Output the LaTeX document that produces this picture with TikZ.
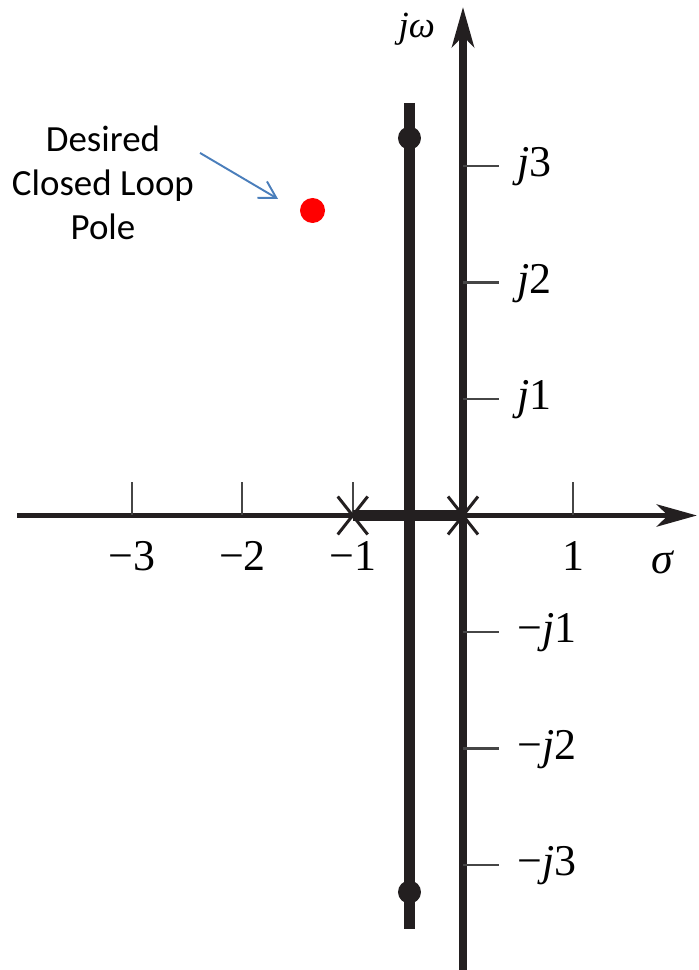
\documentclass[tikz,border=0pt]{standalone}
\usepackage{fontspec}
\setmainfont{Liberation Serif}
\newfontfamily\calloutfont{Carlito}
\usetikzlibrary{arrows.meta,shapes.misc}
\definecolor{inkblack}{RGB}{35,31,32}
\definecolor{tickgray}{RGB}{70,70,70}
\definecolor{calloutblue}{RGB}{74,126,187}
\tikzset{
  axislabel/.style={font=\fontsize{25}{30}\selectfont,inner sep=0pt},
  tickline/.style={tickgray,line width=1.2pt},
  polemark/.style={cross out,draw=inkblack,line width=1.7pt,minimum width=0.54cm,minimum height=0.7cm,inner sep=0pt},
  calloutnote/.style={font=\calloutfont\fontsize{21}{25}\selectfont,align=center,inner sep=0pt}
}
\begin{document}
\begin{tikzpicture}[x=2.206cm,y=2.33cm,>={Stealth[length=0.8cm,width=0.44cm,inset=0.22cm]}]
\useasboundingbox (-4.1976,-3.9013) rectangle (2.1396,4.4249);
\draw[->,inkblack,line width=3.4pt] (-4.043,0)--(2.121,0);
\draw[->,inkblack,line width=4pt] (0,-3.9013)--(0,4.365);
\foreach \x/\lab in {-3/{−3},-2/{−2},-1/{−1},1/{1}}
  {\draw[tickline] (\x,0)--(\x,0.288);
   \node[axislabel,anchor=base] (re\x) at (\x,-0.468) {\lab};}
\foreach \y/\lab in {3/{\textit{j}3},2/{\textit{j}2},1/{\textit{j}1},-1/{−\textit{j}1},-2/{−\textit{j}2},-3/{−\textit{j}3}}
  {\draw[tickline] (0,\y)--(0.326,\y);
   \node[axislabel,anchor=base west] (im\y) at (0.49,\y-0.092) {\lab};}
\node[axislabel,anchor=base] (relabel) at (1.813,-0.494) {\textit{σ}};
\node[font=\fontsize{21}{25}\selectfont,inner sep=0pt,anchor=base] (imlabel) at (-0.42,4.099) {\textit{jω}};

% root locus
\draw[inkblack,line width=6.2pt] (-1,0)--(0,0);
\draw[inkblack,line width=6.2pt] (-0.485,3.541)--(-0.485,-3.549);
\fill[inkblack] (-0.485,3.24) circle (0.23cm);
\fill[inkblack] (-0.485,-3.232) circle (0.23cm);
\node[polemark] (pm1) at (-1,0) {};
\node[polemark] (pm0) at (0,0) {};

% desired pole
\node[circle,fill=red,minimum size=0.5cm,inner sep=0pt] (target) at (-1.364,2.618) {};
\node[calloutnote] (note) at (-3.264,2.854) {Desired\\Closed Loop\\Pole};
\coordinate (tail) at (-2.384,3.112);
\coordinate (tip) at (-1.677,2.717);
\draw[calloutblue,line width=1.1pt,-{Straight Barb[length=0.33cm,width=0.38cm]}] (tail)--(tip);
\end{tikzpicture}
\end{document}
